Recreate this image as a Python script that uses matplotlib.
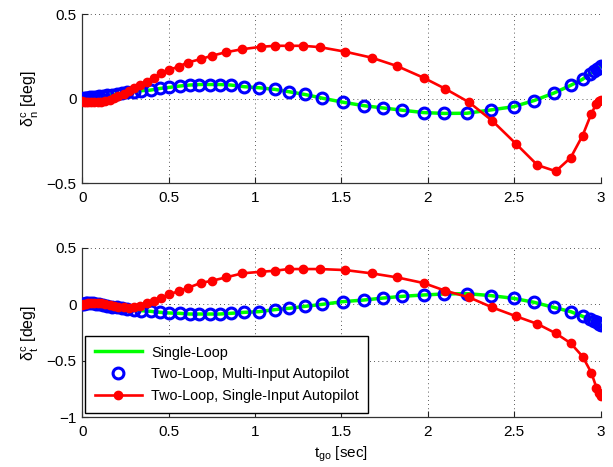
import matplotlib; matplotlib.use("Agg")
import matplotlib.pyplot as plt
from matplotlib.ticker import FuncFormatter

plt.rcParams.update({"font.family": ["Liberation Sans", "DejaVu Sans"], "font.size": 11,
    "mathtext.fontset": "custom", "mathtext.rm": "Liberation Sans",
    "mathtext.it": "Liberation Sans", "mathtext.default": "regular",
    "axes.unicode_minus": True})

# t_go sample points of the markers (dense near both ends)
t_multi = [0.0, 0.01, 0.02, 0.03, 0.045, 0.06, 0.08, 0.10, 0.12, 0.145, 0.17, 0.20, 0.23, 0.26,
           0.30, 0.34, 0.396, 0.452, 0.504, 0.565, 0.622, 0.678, 0.739, 0.796, 0.859, 0.938,
           1.022, 1.115, 1.198, 1.289, 1.39, 1.51, 1.628, 1.743, 1.852, 1.975, 2.095, 2.225,
           2.367, 2.497, 2.614, 2.728, 2.826, 2.895, 2.935, 2.96, 2.978, 2.99, 3.0]
dn_multi = [0.0, 0.002, 0.003, 0.005, 0.007, 0.009, 0.011, 0.013, 0.016, 0.019, 0.023, 0.027,
            0.032, 0.036, 0.041, 0.046, 0.050, 0.060, 0.066, 0.074, 0.080, 0.083, 0.083, 0.083,
            0.080, 0.070, 0.064, 0.054, 0.040, 0.024, 0.002, -0.022, -0.042, -0.056, -0.069,
            -0.083, -0.088, -0.087, -0.067, -0.048, -0.012, 0.032, 0.078, 0.114, 0.145, 0.160,
            0.172, 0.182, 0.192]
dt_multi = [0.0, 0.006, 0.010, 0.012, 0.012, 0.010, 0.005, 0.0, -0.005, -0.012, -0.020, -0.027,
            -0.035, -0.042, -0.050, -0.056, -0.062, -0.071, -0.077, -0.080, -0.086, -0.086,
            -0.086, -0.086, -0.080, -0.071, -0.065, -0.047, -0.035, -0.018, 0.0, 0.024, 0.038,
            0.056, 0.071, 0.083, 0.092, 0.095, 0.077, 0.053, 0.018, -0.027, -0.065, -0.106,
            -0.130, -0.150, -0.160, -0.172, -0.183]
# single-loop design gives the same command history as the multi-input autopilot
t_single, dn_single, dt_single = t_multi, dn_multi, dt_multi

t_siso = [0.0, 0.01, 0.02, 0.035, 0.05, 0.07, 0.09, 0.11, 0.135, 0.16, 0.185, 0.21, 0.24, 0.27,
          0.30, 0.335, 0.373, 0.414, 0.457, 0.502, 0.558, 0.61, 0.685, 0.753, 0.832, 0.927,
          1.035, 1.115, 1.194, 1.277, 1.375, 1.522, 1.674, 1.822, 1.975, 2.10, 2.238, 2.372,
          2.51, 2.634, 2.74, 2.826, 2.895, 2.945, 2.975, 2.99, 3.0]
dn_siso = [-0.015, -0.018, -0.020, -0.022, -0.023, -0.023, -0.021, -0.018, -0.013, -0.006,
           0.003, 0.014, 0.028, 0.043, 0.060, 0.080, 0.100, 0.123, 0.149, 0.169, 0.189, 0.213,
           0.233, 0.254, 0.274, 0.292, 0.306, 0.312, 0.312, 0.312, 0.304, 0.277, 0.242, 0.192,
           0.123, 0.058, -0.022, -0.131, -0.268, -0.394, -0.430, -0.350, -0.219, -0.091,
           -0.030, -0.012, -0.006]
dt_siso = [-0.005, 0.0, 0.004, 0.008, 0.010, 0.012, 0.012, 0.010, 0.005, -0.003, -0.012,
           -0.020, -0.027, -0.030, -0.025, -0.012, 0.008, 0.030, 0.055, 0.090, 0.115, 0.145,
           0.189, 0.210, 0.239, 0.275, 0.289, 0.298, 0.313, 0.313, 0.313, 0.304, 0.275, 0.239,
           0.189, 0.121, 0.062, -0.027, -0.106, -0.174, -0.257, -0.345, -0.463, -0.605,
           -0.738, -0.790, -0.813]

fmt = FuncFormatter(lambda v, p: ("%g" % v).replace("-", "\u2212"))

fig = plt.figure(figsize=(6.13, 4.67), dpi=100)
ax1 = fig.add_axes([0.134, 0.608, 0.846, 0.362])
ax2 = fig.add_axes([0.134, 0.107, 0.846, 0.362])

for ax, y_s, y_m, y_r in [(ax1, dn_single, dn_multi, dn_siso), (ax2, dt_single, dt_multi, dt_siso)]:
    ax.plot(t_single, y_s, color="#00ff00", lw=2.5, label="Single-Loop", zorder=2)
    ax.plot(t_multi, y_m, ls="none", marker="o", ms=7.8, mfc="none", mec="#0000ff", mew=2.2,
            label="Two-Loop, Multi-Input Autopilot", zorder=3)
    ax.plot(t_siso, y_r, color="#ff0000", lw=1.9, marker="o", ms=6.0, mec="#ff0000",
            label="Two-Loop, Single-Input Autopilot", zorder=4)
    ax.set_xlim(0, 3)
    ax.set_xticks([0, 0.5, 1, 1.5, 2, 2.5, 3])
    ax.xaxis.set_major_formatter(fmt); ax.yaxis.set_major_formatter(fmt)
    ax.grid(True, color="#222222", ls=(0, (1, 4)), lw=0.6)
    for s in ["top", "right"]:
        ax.spines[s].set_visible(False)
    for s in ["left", "bottom"]:
        ax.spines[s].set_color("#333333"); ax.spines[s].set_linewidth(0.9)
    ax.tick_params(direction="in", length=4, width=0.8, colors="#222222", labelcolor="k")
    ax.tick_params(axis="x", pad=6)
    ax.tick_params(axis="y", pad=4)

ax1.set_ylim(-0.5, 0.5); ax1.set_yticks([-0.5, 0, 0.5])
ax2.set_ylim(-1, 0.5); ax2.set_yticks([-1, -0.5, 0, 0.5])
ax1.set_ylabel(r"$\delta^{c}_{n}$ [deg]", fontsize=11.5)
ax2.set_ylabel(r"$\delta^{c}_{t}$ [deg]", fontsize=11.5)
ax2.set_xlabel(r"$t_{go}$ [sec]", labelpad=4)

leg = ax2.legend(loc="lower left", bbox_to_anchor=(0.006, 0.025), borderaxespad=0,
                 fontsize=10.4, handlelength=3.3, handletextpad=0.6, labelspacing=0.55,
                 borderpad=0.65, fancybox=False, framealpha=1)
leg.get_frame().set_edgecolor("k"); leg.get_frame().set_linewidth(1.0)

fig.savefig("out.png", dpi=100)
